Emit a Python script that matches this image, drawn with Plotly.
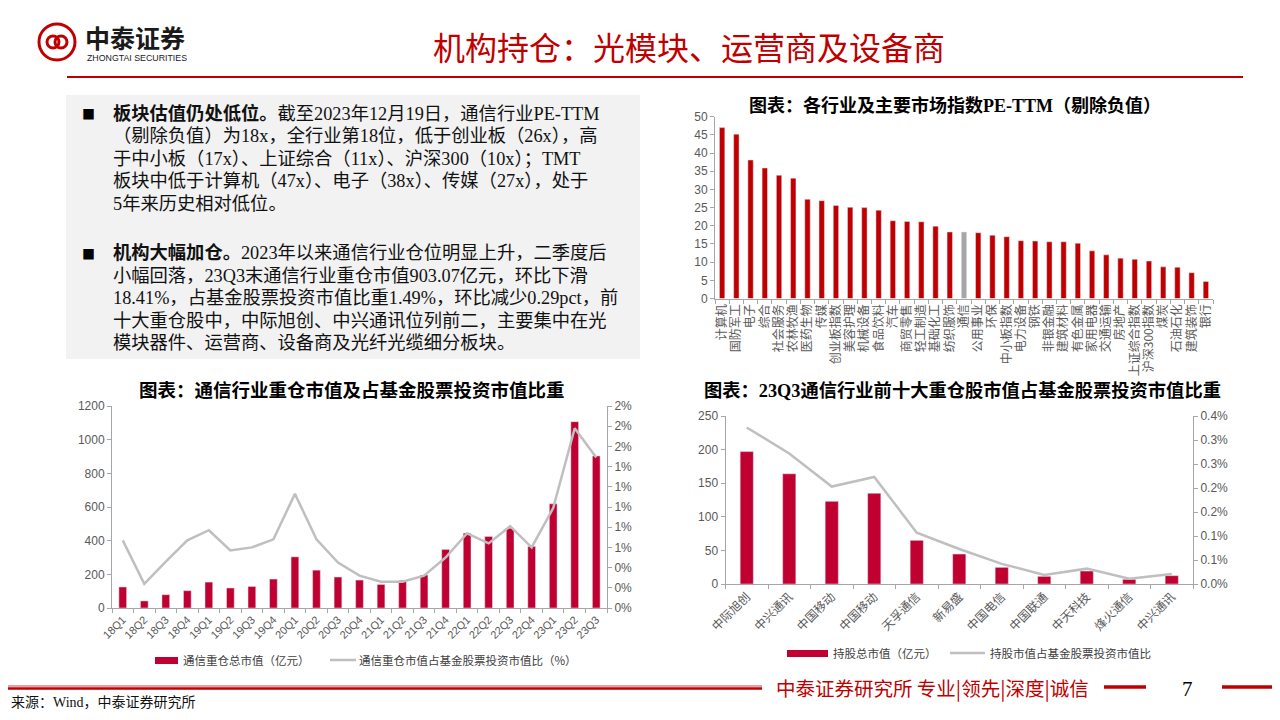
import plotly.graph_objects as go

W, H = 1280, 720
OFF = 8  # page body margin shifts the figure by 8px


def px(x):
    return (x - OFF) / W


def py(y):
    return 1 - (y - OFF) / H


RED = "#C00000"
BAR_RED = "#C00030"
LINE_GRAY = "#BFBFBF"
AXIS_GRAY = "#A6A6A6"
TICK_GRAY = "#595959"
SANS = "Liberation Sans, Arial, Noto Sans CJK SC, sans-serif"
SERIF = "Liberation Serif, Times New Roman, Noto Sans CJK SC, serif"
CJK = "Noto Sans CJK SC, sans-serif"

# ---- PE-TTM by industry / index (top right) ----
pe_industry = [
    "计算机", "国防军工", "电子", "综合", "社会服务", "农林牧渔", "医药生物", "传媒",
    "创业板指数", "美容护理", "机械设备", "食品饮料", "汽车", "商贸零售", "轻工制造",
    "基础化工", "纺织服饰", "通信", "公用事业", "环保", "中小板指数", "电力设备", "钢铁",
    "非银金融", "建筑材料", "有色金属", "家用电器", "交通运输", "房地产", "上证综合指数",
    "沪深300指数", "煤炭", "石油石化", "建筑装饰", "银行",
]
pe_ttm = [
    47.0, 45.2, 38.1, 35.9, 33.9, 33.1, 27.3, 26.9, 25.6, 25.1, 25.0, 24.3, 21.4, 21.2,
    21.1, 19.9, 18.3, 18.3, 18.1, 17.4, 17.0, 15.9, 15.8, 15.6, 15.6, 15.2, 13.1, 12.0,
    11.1, 10.8, 10.3, 8.7, 8.6, 7.1, 4.7,
]
pe_highlight = "通信"

# ---- telecom holdings by quarter (bottom left) ----
quarters = [
    "18Q1", "18Q2", "18Q3", "18Q4", "19Q1", "19Q2", "19Q3", "19Q4", "20Q1", "20Q2",
    "20Q3", "20Q4", "21Q1", "21Q2", "21Q3", "21Q4", "22Q1", "22Q2", "22Q3", "22Q4",
    "23Q1", "23Q2", "23Q3",
]
holding_value = [
    125, 42, 79, 103, 154, 119, 128, 172, 304, 225, 184, 166, 140, 164, 196, 348,
    445, 425, 474, 366, 619, 1107, 903.07,
]
holding_share = [
    0.67, 0.24, 0.46, 0.67, 0.77, 0.57, 0.60, 0.68, 1.13, 0.68, 0.45, 0.32, 0.26, 0.26,
    0.32, 0.50, 0.74, 0.64, 0.81, 0.60, 0.99, 1.78, 1.49,
]
share_ticks = [0, 0.2, 0.4, 0.6, 0.8, 1.0, 1.2, 1.4, 1.6, 1.8, 2.0]
share_ticktext = ["0%", "0%", "0%", "1%", "1%", "1%", "1%", "1%", "2%", "2%", "2%"]

# ---- top 10 holdings 23Q3 (bottom right) ----
top10_stock = [
    "中际旭创", "中兴通讯", "中国移动", "中国移动", "天孚通信", "新易盛", "中国电信",
    "中国联通", "中天科技", "烽火通信", "中兴通讯",
]
top10_value = [197, 164, 123, 135, 65, 44.6, 24.8, 11.4, 19.3, 6.9, 12.4]
top10_share = [0.326, 0.272, 0.203, 0.223, 0.107, 0.073, 0.042, 0.019, 0.032, 0.011, 0.021]
top10_ticks = [0, 0.05, 0.10, 0.15, 0.20, 0.25, 0.30, 0.35]
top10_ticktext = ["0.0%", "0.1%", "0.1%", "0.2%", "0.2%", "0.3%", "0.3%", "0.4%"]

# text block
para1 = [
    "<b>板块估值仍处低位。</b>截至2023年12月19日，通信行业PE-TTM",
    "（剔除负值）为18x，全行业第18位，低于创业板（26x），高",
    "于中小板（17x）、上证综合（11x）、沪深300（10x）；TMT",
    "板块中低于计算机（47x）、电子（38x）、传媒（27x），处于",
    "5年来历史相对低位。",
]
para2 = [
    "<b>机构大幅加仓。</b>2023年以来通信行业仓位明显上升，二季度后",
    "小幅回落，23Q3末通信行业重仓市值903.07亿元，环比下滑",
    "18.41%，占基金股票投资市值比重1.49%，环比减少0.29pct，前",
    "十大重仓股中，中际旭创、中兴通讯位列前二，主要集中在光",
    "模块器件、运营商、设备商及光纤光缆细分板块。",
]


def unique_labels(labels):
    # duplicate names would merge on a category axis
    seen = {}
    out = []
    for lab in labels:
        n = seen.get(lab, 0)
        out.append(lab + "\u200b" * n)
        seen[lab] = n + 1
    return out


top10_cat = unique_labels(top10_stock)

fig = go.Figure()

fig.add_trace(go.Bar(
    x=pe_industry, y=pe_ttm, width=0.38,
    marker_color=["#A6A6A6" if n == pe_highlight else RED for n in pe_industry],
    xaxis="x", yaxis="y",
))

fig.add_trace(go.Bar(
    x=quarters, y=holding_value, width=0.36, marker_color=BAR_RED,
    xaxis="x2", yaxis="y2",
))
fig.add_trace(go.Scatter(
    x=quarters, y=holding_share, mode="lines",
    line=dict(color=LINE_GRAY, width=2.5),
    xaxis="x2", yaxis="y3",
))

fig.add_trace(go.Bar(
    x=top10_cat, y=top10_value, width=0.31, marker_color=BAR_RED,
    xaxis="x3", yaxis="y4",
))
fig.add_trace(go.Scatter(
    x=top10_cat, y=top10_share, mode="lines",
    line=dict(color=LINE_GRAY, width=2.5),
    xaxis="x3", yaxis="y5",
))


def ax(**kw):
    d = dict(
        showline=True, linecolor=AXIS_GRAY, linewidth=1, ticks="outside",
        tickcolor=AXIS_GRAY, ticklen=4, showgrid=False, zeroline=False,
        tickfont=dict(family=SANS, size=12, color=TICK_GRAY), fixedrange=True,
        automargin=False,
    )
    d.update(kw)
    return d


fig.update_layout(
    width=W, height=H,
    margin=dict(l=0, r=0, t=0, b=0, pad=0, autoexpand=False),
    paper_bgcolor="white", plot_bgcolor="rgba(0,0,0,0)",
    showlegend=False,
    xaxis=ax(domain=[px(715), px(1213)], anchor="y", type="category",
             tickangle=-90, tickson="boundaries", range=[-0.5, 34.5],
             tickfont=dict(family=CJK, size=12, color=TICK_GRAY)),
    yaxis=ax(domain=[py(298.5), py(116.7)], anchor="x", range=[0, 50], dtick=5),
    xaxis2=ax(domain=[px(112), px(607)], anchor="y2", type="category",
              tickangle=-45, tickson="boundaries", range=[-0.5, 22.5],
              tickfont=dict(family=SANS, size=11, color=TICK_GRAY)),
    yaxis2=ax(domain=[py(608), py(406)], anchor="x2", range=[0, 1200], dtick=200),
    yaxis3=ax(overlaying="y2", anchor="x2", side="right", range=[0, 2],
              tickvals=share_ticks, ticktext=share_ticktext),
    xaxis3=ax(domain=[px(725.5), px(1193)], anchor="y4", type="category",
              tickangle=-45, tickson="boundaries", range=[-0.5, 10.5],
              tickfont=dict(family=CJK, size=12, color=TICK_GRAY)),
    yaxis4=ax(domain=[py(584), py(416)], anchor="x3", range=[0, 250], dtick=50),
    yaxis5=ax(overlaying="y4", anchor="x3", side="right", range=[0, 0.35],
              tickvals=top10_ticks, ticktext=top10_ticktext),
)

shapes = []
annos = []


def text(x, y, s, size, color="black", family=CJK, xanchor="left", **kw):
    annos.append(dict(
        x=px(x), y=py(y), xref="paper", yref="paper", text=s, showarrow=False,
        xanchor=xanchor, yanchor="middle", font=dict(family=family, size=size, color=color),
        **kw,
    ))


def hline(x0, x1, y, color, width):
    shapes.append(dict(type="line", xref="paper", yref="paper", x0=px(x0), x1=px(x1),
                       y0=py(y), y1=py(y), line=dict(color=color, width=width)))


# header: logo + title + rule
shapes.append(dict(type="circle", xref="paper", yref="paper", x0=px(39), x1=px(75),
                   y0=py(60), y1=py(24), line=dict(color=RED, width=3)))
shapes.append(dict(type="circle", xref="paper", yref="paper", x0=px(47), x1=px(59),
                   y0=py(48), y1=py(36), line=dict(color=RED, width=3)))
shapes.append(dict(type="circle", xref="paper", yref="paper", x0=px(55), x1=px(67),
                   y0=py(48), y1=py(36), line=dict(color=RED, width=3)))
text(83, 37, "<b>中泰证券</b>", 25, "#1a1a1a")
text(85, 58.5, "ZHONGTAI SECURITIES", 8.8, "#1a1a1a", family=SANS)
text(689, 46, "机构持仓：光模块、运营商及设备商", 32, RED, xanchor="center")
hline(67, 1243, 77, RED, 2)

# text box
shapes.append(dict(type="rect", xref="paper", yref="paper", x0=px(66), x1=px(640),
                   y0=py(359), y1=py(95), fillcolor="#F2F2F2", line=dict(width=0),
                   layer="below"))
for i, line in enumerate(para1):
    text(111, 113.3 + i * 22.6, line, 18.3, "#111111", family=SERIF)
for i, line in enumerate(para2):
    text(111, 253 + i * 22.6, line, 18.3, "#111111", family=SERIF)
text(80, 113.3, "■", 13, "black")
text(80, 253, "■", 13, "black")

# chart titles
text(955, 106, "<b>图表：各行业及主要市场指数PE-TTM（剔除负值）</b>", 18, "black",
     family=SERIF, xanchor="center")
text(352, 390, "<b>图表：通信行业重仓市值及占基金股票投资市值比重</b>", 18.5, "black",
     family=SERIF, xanchor="center")
text(962, 390, "<b>图表：23Q3通信行业前十大重仓股市值占基金股票投资市值比重</b>", 18.3,
     "black", family=SERIF, xanchor="center")

# legends
shapes.append(dict(type="rect", xref="paper", yref="paper", x0=px(155), x1=px(178),
                   y0=py(664), y1=py(657), fillcolor=BAR_RED, line=dict(width=0)))
text(181, 660, "通信重仓总市值（亿元）", 11.5, "#404040")
hline(330, 356, 660, LINE_GRAY, 2.5)
text(357, 660, "通信重仓市值占基金股票投资市值比（%）", 11.5, "#404040")

shapes.append(dict(type="rect", xref="paper", yref="paper", x0=px(787), x1=px(828),
                   y0=py(657), y1=py(650), fillcolor=BAR_RED, line=dict(width=0)))
text(831, 653, "持股总市值（亿元）", 11.5, "#404040")
hline(950, 985, 653, LINE_GRAY, 2.5)
text(988, 653, "持股市值占基金股票投资市值比", 11.5, "#404040")

# footer
hline(0, 762, 686, "#E8A0A8", 2)
hline(0, 762, 688.5, RED, 2.5)
text(774, 687, "中泰证券研究所 专业|领先|深度|诚信", 19.5, RED)
hline(1104, 1146, 687, RED, 3.5)
text(1187, 689, "7", 21, "black", family=SERIF, xanchor="center")
hline(1222, 1290, 687, RED, 3.5)
text(9, 702, "来源：Wind，中泰证券研究所", 14, "#111111", family=SERIF)

fig.update_layout(shapes=shapes, annotations=annos)

fig.write_html("out.html")
